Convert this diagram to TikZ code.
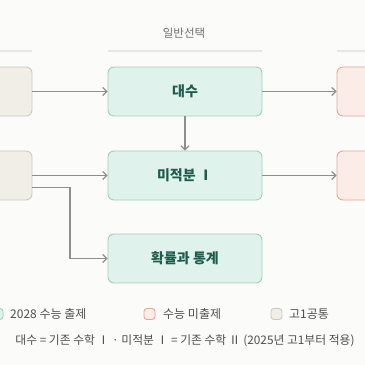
\documentclass[tikz,border=0pt]{standalone}
\usepackage{fontspec}
\setmainfont{Noto Sans CJK KR}
\usetikzlibrary{arrows.meta,positioning}
\definecolor{bg}{HTML}{FBFBF9}
\definecolor{grfill}{HTML}{E0F2EC}
\definecolor{grline}{HTML}{9ECFBF}
\definecolor{grtext}{HTML}{1F5C4A}
\definecolor{bgfill}{HTML}{F1EEE8}
\definecolor{bgline}{HTML}{CEC9C0}
\definecolor{pkfill}{HTML}{FBECE8}
\definecolor{pkline}{HTML}{E0A898}
\definecolor{arrowc}{HTML}{8F8E8A}
\definecolor{hline}{HTML}{E8E6E2}
\definecolor{htext}{HTML}{6E6E6E}
\definecolor{ltext}{HTML}{4F4F4F}
\tikzset{
  box/.style={rounded corners=6pt, line width=0.9pt, minimum height=49pt, inner sep=0pt},
  greenbox/.style={box, fill=grfill, draw=grline, minimum width=154pt, text=grtext, font=\fontsize{14}{16}\selectfont\bfseries},
  beigebox/.style={box, fill=bgfill, draw=bgline, minimum width=92pt},
  pinkbox/.style={box, fill=pkfill, draw=pkline, minimum width=93pt},
  swatch/.style={rounded corners=3pt, line width=0.9pt, minimum width=11pt, minimum height=11pt, inner sep=0pt},
  conn/.style={draw=arrowc, line width=1.3pt, -{Straight Barb[length=4pt,width=8pt,line width=1.2pt]}},
  legtext/.style={text=ltext, font=\fontsize{12}{14}\selectfont, anchor=west, inner sep=0pt},
  hrule/.style={draw=hline, line width=1.5pt}
}
\begin{document}
\begin{tikzpicture}[x=1pt,y=-1pt]
\useasboundingbox (0,0) rectangle (365,365);
\clip (0,0) rectangle (365,365);
\fill[bg] (0,0) rectangle (365,365);
% header
\node[text=htext, font=\fontsize{11.5}{13}\selectfont] (head) at (184,33) {일반선택};
\coordinate (hl1a) at (0,51); \coordinate (hl1b) at (32,51);
\coordinate (hl2a) at (108,51); \coordinate (hl2b) at (262,51);
\coordinate (hl3a) at (337,51); \coordinate (hl3b) at (365,51);
\draw[hrule] (hl1a) -- (hl1b);
\draw[hrule] (hl2a) -- (hl2b);
\draw[hrule] (hl3a) -- (hl3b);
% boxes
\node[beigebox] (L1) at (-14,91.5) {};
\node[beigebox] (L2) at (-14,175.5) {};
\node[greenbox] (alg) at (185,91.5) {대수};
\node[greenbox] (calc) at (185,175.5) {미적분 Ⅰ};
\node[greenbox] (stat) at (185,258.5) {확률과 통계};
\node[pinkbox] (R1) at (383.5,91.5) {};
\node[pinkbox] (R2) at (383.5,175.5) {};
% connectors
\draw[conn] (L1.east) -- (alg.west);
\draw[conn] (alg.east) -- (R1.west);
\draw[conn] (alg.south) -- (calc.north);
\draw[conn] (L2.east) -- (calc.west);
\draw[conn] (calc.east) -- (R2.west);
\coordinate (L2b) at ([yshift=-12pt]L2.east);
\coordinate (bend) at (70,187.5);
\draw[conn] (L2b) -- (bend) |- (stat.west);
% legend
\node[swatch, fill=grfill, draw=grline] (sw1) at (-2.5,314) {};
\node[legtext] (lt1) at (10,314) {2028 수능 출제};
\node[swatch, fill=pkfill, draw=pkline] (sw2) at (149.5,314) {};
\node[legtext] (lt2) at (163,314) {수능 미출제};
\node[swatch, fill=bgfill, draw=bgline] (sw3) at (276.5,314) {};
\node[legtext] (lt3) at (289,314) {고1공통};
\node[text=ltext, font=\fontsize{11.8}{13}\selectfont, inner sep=0pt] (note) at (185,341) {대수 = 기존 수학 Ⅰ · 미적분 Ⅰ = 기존 수학 Ⅱ (2025년 고1부터 적용)};
\end{tikzpicture}
\end{document}
